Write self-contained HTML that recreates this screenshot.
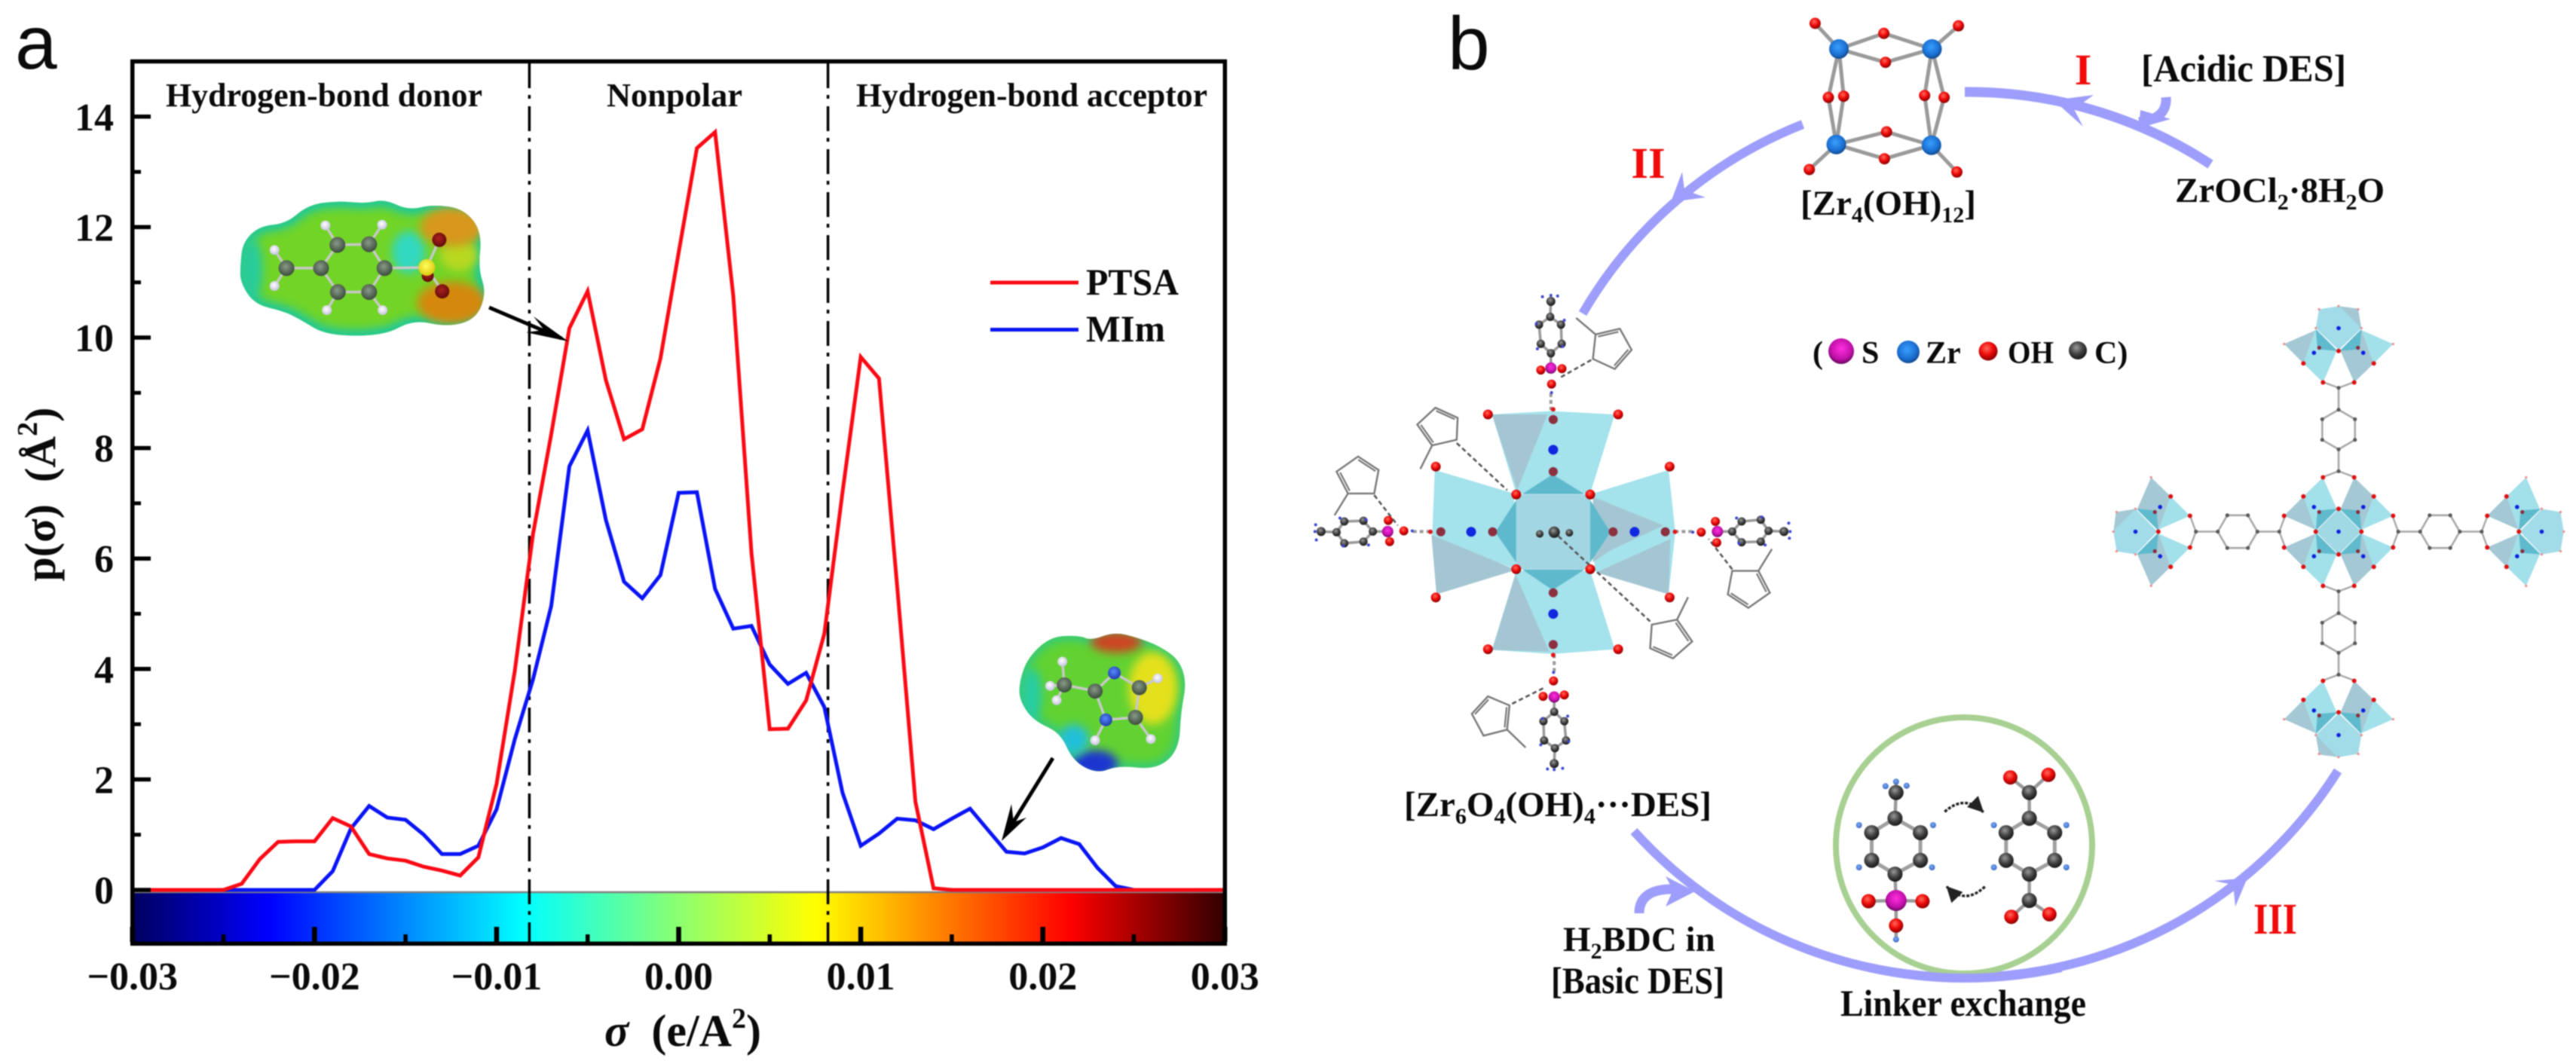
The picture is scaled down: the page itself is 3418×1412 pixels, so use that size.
<!DOCTYPE html>
<html lang="en">
<head>
<meta charset="utf-8">
<title>Sigma profile and MOF synthesis cycle</title>
<style>
html,body{margin:0;padding:0;background:#fff;}
#figure{display:block;filter:blur(0.8px);}
text{font-family:"Liberation Serif",serif;font-weight:bold;fill:#0a0a0a;}
.panel{font-family:"Liberation Sans",sans-serif;font-weight:normal;font-size:100px;}
.tick{font-size:52px;}
.grp{font-size:44px;}
.leg{font-size:50px;}
.lab{font-size:47px;}
.roman{font-size:58px;fill:#f00a0a;}
</style>
</head>
<body>
<svg id="figure" xmlns="http://www.w3.org/2000/svg" width="3418" height="1412" viewBox="0 0 3418 1412">
<defs>
<linearGradient id="barGrad" x1="0" x2="1" y1="0" y2="0">
<stop offset="0" stop-color="#00005f"/>
<stop offset="0.125" stop-color="#0000ff"/>
<stop offset="0.358" stop-color="#00ffff"/>
<stop offset="0.5" stop-color="#8cff70"/>
<stop offset="0.625" stop-color="#ffff00"/>
<stop offset="0.858" stop-color="#ff0000"/>
<stop offset="1" stop-color="#300000"/>
</linearGradient>
<radialGradient id="gRed" cx="0.42" cy="0.35" r="0.7"><stop offset="0" stop-color="#ff6a5a"/><stop offset="0.5" stop-color="#ee0a0a"/><stop offset="1" stop-color="#700"/></radialGradient>
<radialGradient id="gZr" cx="0.45" cy="0.4" r="0.7"><stop offset="0" stop-color="#39a0ff"/><stop offset="0.6" stop-color="#1a6ed0"/><stop offset="1" stop-color="#0c3568"/></radialGradient>
<radialGradient id="gDark" cx="0.42" cy="0.35" r="0.7"><stop offset="0" stop-color="#999"/><stop offset="0.5" stop-color="#444"/><stop offset="1" stop-color="#111"/></radialGradient>
<radialGradient id="gMag" cx="0.5" cy="0.4" r="0.7"><stop offset="0" stop-color="#ff30e0"/><stop offset="0.6" stop-color="#c010a8"/><stop offset="1" stop-color="#300030"/></radialGradient>
<radialGradient id="gSmall" cx="0.45" cy="0.4" r="0.7"><stop offset="0" stop-color="#7ab0ff"/><stop offset="1" stop-color="#3356b0"/></radialGradient>
<radialGradient id="gWhite" cx="0.45" cy="0.4" r="0.7"><stop offset="0" stop-color="#fff"/><stop offset="1" stop-color="#bbb8d8"/></radialGradient>
<radialGradient id="gCesp" cx="0.45" cy="0.4" r="0.7"><stop offset="0" stop-color="#8a9a88"/><stop offset="1" stop-color="#2e3e30"/></radialGradient>
<radialGradient id="gNesp" cx="0.45" cy="0.4" r="0.7"><stop offset="0" stop-color="#5a88ff"/><stop offset="1" stop-color="#1230a0"/></radialGradient>
<radialGradient id="gOesp" cx="0.45" cy="0.4" r="0.7"><stop offset="0" stop-color="#b02020"/><stop offset="1" stop-color="#500808"/></radialGradient>
<radialGradient id="gS" cx="0.45" cy="0.4" r="0.7"><stop offset="0" stop-color="#ffff60"/><stop offset="1" stop-color="#d8c000"/></radialGradient>
<filter id="soft" x="-60%" y="-60%" width="220%" height="220%"><feGaussianBlur stdDeviation="12"/></filter>
<filter id="softer" x="-60%" y="-60%" width="220%" height="220%"><feGaussianBlur stdDeviation="6"/></filter>
<clipPath id="clipPtsa"><path id="clipPtsaPath" d=""/></clipPath>
<clipPath id="clipMim"><path id="clipMimPath" d=""/></clipPath>
<marker id="dashHead" markerWidth="10" markerHeight="10" refX="6" refY="3" orient="auto" markerUnits="strokeWidth"><path d="M0 0 L6 3 L0 6 Z" fill="#222"/></marker>
</defs>
<rect width="3418" height="1412" fill="#fff"/>

<text class="panel" x="20" y="91">a</text>
<text class="panel" x="1921" y="92">b</text>

<g id="chart"></g>

<text class="grp" x="220" y="141" textLength="420" lengthAdjust="spacingAndGlyphs">Hydrogen-bond donor</text>
<text class="grp" x="805" y="141" textLength="180" lengthAdjust="spacingAndGlyphs">Nonpolar</text>
<text class="grp" x="1136" y="141" textLength="466" lengthAdjust="spacingAndGlyphs">Hydrogen-bond acceptor</text>

<g>
<line x1="1314" x2="1431" y1="375" y2="375" stroke="#fa0a14" stroke-width="5"/>
<text class="leg" x="1441" y="391" textLength="123" lengthAdjust="spacingAndGlyphs">PTSA</text>
<line x1="1314" x2="1431" y1="437.5" y2="437.5" stroke="#0a14f5" stroke-width="5"/>
<text class="leg" x="1441" y="453" textLength="105" lengthAdjust="spacingAndGlyphs">MIm</text>
</g>

<text transform="translate(73,656) rotate(-90)" text-anchor="middle" font-size="58" xml:space="preserve">p(σ)  (Å<tspan font-size="38" dy="-24">2</tspan><tspan dy="24">)</tspan></text>
<text x="802" y="1388" font-size="60" xml:space="preserve"><tspan font-style="italic">σ</tspan>  (e/A<tspan font-size="38" dy="-24">2</tspan><tspan dy="24">)</tspan></text>

<g id="espPtsa"></g>
<g id="espMim"></g>

<g>
<line x1="649" y1="408" x2="745" y2="449" stroke="#000" stroke-width="5"/>
<path d="M754 453 L708 420 L722 438 L698 441 Z" fill="#000"/>
</g>
<g>
<line x1="1397" y1="1006" x2="1334" y2="1108" stroke="#000" stroke-width="5"/>
<path d="M1329 1116 L1342 1067 L1345 1091 L1362 1085 Z" fill="#000"/>
</g>

<!-- panel b -->
<g fill="none" stroke="#9d9dfb" stroke-width="12">
<path d="M2607 122 A588 588 0 0 1 2933 218" stroke-width="13"/>
<path d="M2392 165 A588 588 0 0 0 2100 416"/>
<path d="M2168 1103 A588 588 0 0 0 3102 1023"/>
<path d="M2874 129 Q2876 158 2838 162" stroke-width="13"/>
<path d="M2175 1212 Q2175 1178 2225 1180" stroke-width="13"/>
<path stroke="none" fill="#9d9dfb" d="M2725 133 L2778 126 L2752 145 L2764 168 Z"/>
<path stroke="none" fill="#9d9dfb" d="M2217 268 L2232 228 L2235 252 L2263 262 Z"/>
<path stroke="none" fill="#9d9dfb" d="M2982 1165 L2938 1169 L2963 1174 L2966 1203 Z"/>
<path stroke="none" fill="#9d9dfb" d="M2249 1183 L2210 1163 L2220 1181 L2210 1203 Z"/>
<path stroke="none" fill="#9d9dfb" d="M2838 170 L2840 146 L2880 158 Z"/>
</g>

<g id="zrCluster"></g>
<g id="leftMof"></g>
<g id="rightMof"></g>
<ellipse cx="2606" cy="1122" rx="170" ry="170" fill="none" stroke="#a8d092" stroke-width="8"/>
<path d="M2480 1284 A588 588 0 0 0 2735 1284" fill="none" stroke="#9d9dfb" stroke-width="12"/>
<g id="exchange"></g>
<g id="legendB"></g>

<text class="roman" x="2764" y="112" text-anchor="middle">I</text>
<text class="roman" x="2187" y="236" text-anchor="middle">II</text>
<text class="roman" x="3019" y="1239" text-anchor="middle" textLength="58" lengthAdjust="spacingAndGlyphs">III</text>

<text class="lab" x="2841" y="108" textLength="272" lengthAdjust="spacingAndGlyphs" style="font-size:51px">[Acidic DES]</text>
<text class="lab" x="2886" y="268">ZrOCl<tspan font-size="30" dy="10">2</tspan><tspan dy="-10">·8H</tspan><tspan font-size="30" dy="10">2</tspan><tspan dy="-10">O</tspan></text>
<text class="lab" x="2389" y="285">[Zr<tspan font-size="30" dy="10">4</tspan><tspan dy="-10">(OH)</tspan><tspan font-size="30" dy="10">12</tspan><tspan dy="-10">]</tspan></text>
<text class="lab" x="1863" y="1083">[Zr<tspan font-size="30" dy="10">6</tspan><tspan dy="-10">O</tspan><tspan font-size="30" dy="10">4</tspan><tspan dy="-10">(OH)</tspan><tspan font-size="30" dy="10">4</tspan><tspan dy="-10">···DES]</tspan></text>
<text class="lab" x="2074" y="1262">H<tspan font-size="30" dy="10">2</tspan><tspan dy="-10">BDC in</tspan></text>
<text class="lab" x="2058" y="1318" textLength="230" lengthAdjust="spacingAndGlyphs" style="font-size:50px">[Basic DES]</text>
<text class="lab" x="2442" y="1348" textLength="326" lengthAdjust="spacingAndGlyphs" style="font-size:50px">Linker exchange</text>

<g font-size="42">
<text x="2405" y="482" font-size="42">(</text>
<text x="2470" y="482" font-size="42">S</text>
<text x="2555" y="482" font-size="42">Zr</text>
<text x="2664" y="482" font-size="42" textLength="61" lengthAdjust="spacingAndGlyphs">OH</text>
<text x="2779" y="482" font-size="42">C)</text>
</g>
</svg>

<script>
// ---------- chart data ----------
const sigmaValues = [-0.030,-0.029,-0.028,-0.027,-0.026,-0.025,-0.024,-0.023,-0.022,-0.021,-0.020,-0.019,-0.018,-0.017,-0.016,-0.015,-0.014,-0.013,-0.012,-0.011,-0.010,-0.009,-0.008,-0.007,-0.006,-0.005,-0.004,-0.003,-0.002,-0.001,0.000,0.001,0.002,0.003,0.004,0.005,0.006,0.007,0.008,0.009,0.010,0.011,0.012,0.013,0.014,0.015,0.016,0.017,0.018,0.019,0.020,0.021,0.022,0.023,0.024,0.025,0.026,0.027,0.028,0.029,0.030];
const ptsaValues = [0,0,0,0,0,0,0.11,0.56,0.87,0.88,0.88,1.30,1.15,0.65,0.57,0.53,0.42,0.35,0.26,0.59,1.92,3.97,6.44,8.25,10.17,10.84,9.23,8.16,8.34,9.62,11.54,13.43,13.72,10.75,6.10,2.91,2.92,3.43,4.64,7.20,9.65,9.26,5.50,1.60,0.03,0,0,0,0,0,0,0,0,0,0,0,0,0,0,0,0];
const mimValues = [0,0,0,0,0,0,0,0,0,0,0,0.34,1.11,1.52,1.31,1.27,1.00,0.65,0.65,0.80,1.46,2.73,3.81,5.14,7.67,8.32,6.70,5.58,5.28,5.70,7.19,7.20,5.45,4.73,4.78,4.08,3.73,3.93,3.31,1.76,0.80,1.02,1.29,1.26,1.10,1.29,1.47,1.08,0.69,0.66,0.77,0.94,0.83,0.40,0.07,0,0,0,0,0,0];
const xMajorTicks = [-0.03,-0.02,-0.01,0.00,0.01,0.02,0.03];
const xMinorTicks = [-0.025,-0.015,-0.005,0.005,0.015,0.025];
const xTickLabels = ["\u22120.03","\u22120.02","\u22120.01","0.00","0.01","0.02","0.03"];
const yMajorTicks = [0,2,4,6,8,10,12,14];
const yMinorTicks = [1,3,5,7,9,11,13];
const yTickLabels = ["0","2","4","6","8","10","12","14"];
const regionBoundaries = [-0.0082,0.0082];
const xDomain = [-0.03,0.03];
const yDomain = [-1,15];

const SVGNS = "http://www.w3.org/2000/svg";
function xScale(v){return 175.7+(v-xDomain[0])/(xDomain[1]-xDomain[0])*1449.6;}
function yScale(v){return 1254.3-(v-yDomain[0])/(yDomain[1]-yDomain[0])*1172.8;}
function mk(tag,parent,attrs){
  const el=document.createElementNS(SVGNS,tag);
  for(const k in attrs){el.setAttribute(k,attrs[k]);}
  parent.appendChild(el);
  return el;
}
const chart=document.getElementById("chart");

// colour bar
const bar=mk("rect",chart,{x:xScale(xDomain[0]),y:1184,width:xScale(xDomain[1])-xScale(xDomain[0]),height:66,fill:"url(#barGrad)"});


const barTop=mk("line",chart,{x1:xScale(xDomain[0]),x2:xScale(xDomain[1]),y1:1184,y2:1184,stroke:"#808080","stroke-width":2.5});



// region boundaries
regionBoundaries.forEach(function(b){
  const l=mk("line",chart,{x1:xScale(b),x2:xScale(b),y1:84,y2:1250,stroke:"#000","stroke-width":3.5,"stroke-dasharray":"33 9 5 10"});
  
  
});

// series
function seriesPath(vals){
  return vals.map(function(v,i){return (i?"L":"M")+xScale(sigmaValues[i]).toFixed(1)+" "+yScale(v).toFixed(1);}).join(" ");
}
const mimLine=mk("path",chart,{d:seriesPath(mimValues),fill:"none",stroke:"#0a14f5","stroke-width":5,"stroke-linejoin":"miter"});


const ptsaLine=mk("path",chart,{d:seriesPath(ptsaValues),fill:"none",stroke:"#fa0a14","stroke-width":5,"stroke-linejoin":"miter"});



// frame
const frame=mk("rect",chart,{x:xScale(xDomain[0]),y:yScale(yDomain[1]),width:xScale(xDomain[1])-xScale(xDomain[0]),height:yScale(yDomain[0])-yScale(yDomain[1])-2,fill:"none",stroke:"#000","stroke-width":5.5});



// ticks
yMajorTicks.forEach(function(v,i){
  const t=mk("line",chart,{x1:175,x2:200,y1:yScale(v),y2:yScale(v),stroke:"#000","stroke-width":5.5});
  
  
  const l=mk("text",chart,{x:151,y:yScale(v)+18,"text-anchor":"end",class:"tick"});
  
  
  l.textContent=yTickLabels[i];
});
yMinorTicks.forEach(function(v){
  const t=mk("line",chart,{x1:175,x2:187,y1:yScale(v),y2:yScale(v),stroke:"#000","stroke-width":5});
  
  
});
xMajorTicks.forEach(function(v,i){
  const t=mk("line",chart,{x1:xScale(v),x2:xScale(v),y1:1250,y2:1230,stroke:"#000","stroke-width":6.5});
  
  
  const l=mk("text",chart,{x:xScale(v),y:1313,"text-anchor":"middle",class:"tick"});
  
  
  l.textContent=xTickLabels[i];
});
xMinorTicks.forEach(function(v){
  const t=mk("line",chart,{x1:xScale(v),x2:xScale(v),y1:1250,y2:1240,stroke:"#000","stroke-width":5.5});
  
  
});

// ---------- illustration helpers ----------
const z1=function(p){return [p[0]/1.568,p[1]/2.24];};
const z4=function(p){return [800+p[0]/1.96,700+p[1]/2.202];};
const z5=function(p){return [1560+p[0]/2.24,300+p[1]/2.24];};
const z7=function(p){return [2000+p[0]/1.425,p[1]/3];};
const z8=function(p){return [1800+p[0]/1.425,950+p[1]/3];};

function ball(parent,p,r,fill,name){
  const el=mk("circle",parent,{cx:p[0].toFixed(1),cy:p[1].toFixed(1),r:r,fill:fill});
  
  
  return el;
}
function stick(parent,a,b,w,col,dash,name){
  const attrs={x1:a[0].toFixed(1),y1:a[1].toFixed(1),x2:b[0].toFixed(1),y2:b[1].toFixed(1),stroke:col,"stroke-width":w};
  if(dash){attrs["stroke-dasharray"]=dash;}
  const el=mk("line",parent,attrs);
  
  
  return el;
}
function poly(parent,pts,fill,name){
  const el=mk("polygon",parent,{points:pts.map(function(p){return p[0].toFixed(1)+","+p[1].toFixed(1);}).join(" "),fill:fill});
  
  
  return el;
}
function closedSpline(pts){
  const n=pts.length;
  const mid=function(a,b){return [(a[0]+b[0])/2,(a[1]+b[1])/2];};
  const s=mid(pts[n-1],pts[0]);
  let d="M"+s[0].toFixed(1)+" "+s[1].toFixed(1);
  for(let i=0;i<n;i++){
    const m=mid(pts[i],pts[(i+1)%n]);
    d+=" Q"+pts[i][0].toFixed(1)+" "+pts[i][1].toFixed(1)+" "+m[0].toFixed(1)+" "+m[1].toFixed(1);
  }
  return d+" Z";
}
function glow(parent,conv,c,rx,ry,col,filt,name){
  const p=conv(c);
  const el=mk("ellipse",parent,{cx:p[0],cy:p[1],rx:rx,ry:ry,fill:col,filter:"url(#"+filt+")"});
  
  
}

// ---------- PTSA ESP surface ----------
(function(){
  const g=document.getElementById("espPtsa");
  const outline=[[500,790],[505,720],[540,672],[595,665],[640,610],[700,597],[760,605],[800,592],[850,625],[900,608],[965,620],[1003,690],[995,800],[1012,870],[990,950],[930,972],[860,950],[800,998],[680,998],[625,950],[590,925],[530,905],[500,840]].map(z1);
  const d=closedSpline(outline);
  document.getElementById("clipPtsaPath").setAttribute("d",d);
  const base=mk("path",g,{d:d,fill:"#72d426"});
  
  
  const c=mk("g",g,{"clip-path":"url(#clipPtsa)"});
  const rim=mk("path",c,{d:d,fill:"none",stroke:"#1cc8a0","stroke-width":16,filter:"url(#softer)"});
  
  
  glow(c,z1,[850,750],22,28,"#30d8c0","softer","ptsa-surface-teal");
  glow(c,z1,[525,800],14,40,"#28cc9c","softer","ptsa-surface-left");
  glow(c,z1,[955,760],25,20,"#b8d820","softer","ptsa-surface-yellow");
  glow(c,z1,[940,675],42,26,"#d8981e","softer","ptsa-surface-orange-top");
  glow(c,z1,[940,900],46,28,"#d4880f","softer","ptsa-surface-orange-bottom");
  [[596,797,668,797],[668,797,702,728],[702,728,768,726],[768,726,800,797],[800,797,768,868],[768,868,703,868],[703,868,668,797],[800,797,888,795],[596,797,571,743],[596,797,571,850],[702,728,677,670],[768,726,795,668],[703,868,680,922],[768,868,796,922],[888,795,914,713],[888,795,920,866]].forEach(function(s){
    stick(g,z1([s[0],s[1]]),z1([s[2],s[3]]),3.5,"#c8c8c8",null,"ptsa-bond");
  });
  [[596,797],[668,797],[702,728],[768,726],[800,797],[768,868],[703,868]].forEach(function(p){ball(g,z1(p),10.5,"url(#gCesp)","ptsa-carbon");});
  [[571,743],[571,850],[677,670],[795,668],[680,922],[796,922]].forEach(function(p){ball(g,z1(p),6.5,"url(#gWhite)","ptsa-hydrogen");});
  ball(g,z1([890,820]),8,"url(#gOesp)","ptsa-oxygen");
  [[914,713],[920,866]].forEach(function(p){ball(g,z1(p),9.5,"url(#gOesp)","ptsa-oxygen");});
  ball(g,z1([888,795]),11,"url(#gS)","ptsa-sulfur");
})();

// ---------- MIm ESP surface ----------
(function(){
  const g=document.getElementById("espMim");
  const outline=[[1083,450],[1105,380],[1165,318],[1240,316],[1270,330],[1330,305],[1390,322],[1445,345],[1497,385],[1518,450],[1503,540],[1498,650],[1440,708],[1340,695],[1285,720],[1222,682],[1190,600],[1120,565],[1083,505]].map(z4);
  const d=closedSpline(outline);
  document.getElementById("clipMimPath").setAttribute("d",d);
  const base=mk("path",g,{d:d,fill:"#62d232"});
  
  
  const c=mk("g",g,{"clip-path":"url(#clipMim)"});
  const rim=mk("path",c,{d:d,fill:"none",stroke:"#28c890","stroke-width":10,filter:"url(#softer)"});
  
  
  glow(c,z4,[1430,470],32,48,"#e4e01c","softer","mim-surface-yellow");
  glow(c,z4,[1335,335],34,14,"#cc4420","softer","mim-surface-red");
  glow(c,z4,[1280,690],30,18,"#1c34d0","softer","mim-surface-blue");
  glow(c,z4,[1225,620],20,20,"#20c0d8","softer","mim-surface-cyan");
  glow(c,z4,[1115,490],14,36,"#28cca0","softer","mim-surface-left");
  [[1200,460,1280,478],[1280,478,1330,425],[1330,425,1395,468],[1395,468,1385,555],[1385,555,1308,562],[1308,562,1280,478],[1200,460,1163,463],[1200,460,1195,392],[1200,460,1180,505],[1395,468,1443,441],[1308,562,1280,622],[1385,555,1425,618]].forEach(function(s){
    stick(g,z4([s[0],s[1]]),z4([s[2],s[3]]),3.5,"#c8c8c8",null,"mim-bond");
  });
  [[1200,460],[1280,478],[1395,468],[1385,555]].forEach(function(p){ball(g,z4(p),10,"url(#gCesp)","mim-carbon");});
  [[1330,425],[1308,562]].forEach(function(p){ball(g,z4(p),8.5,"url(#gNesp)","mim-nitrogen");});
  [[1163,463],[1195,392],[1180,505],[1443,441],[1280,622],[1425,618]].forEach(function(p){ball(g,z4(p),6.5,"url(#gWhite)","mim-hydrogen");});
})();

// ---------- Zr4 cluster ----------
(function(){
  const g=document.getElementById("zrCluster");
  const zr=[[627,195],[803,195],[622,575],[802,578]];
  const bonds=[[627,195,582,93],[803,195,853,103],[627,195,712,133],[803,195,712,133],[627,195,715,248],[803,195,715,248],[627,195,607,388],[627,195,636,383],[803,195,789,380],[803,195,826,388],[622,575,607,388],[622,575,636,383],[802,578,789,380],[802,578,826,388],[622,575,717,525],[802,578,717,525],[622,575,713,632],[802,578,713,632],[622,575,571,675],[802,578,850,685]];
  bonds.forEach(function(b){stick(g,z7([b[0],b[1]]),z7([b[2],b[3]]),5,"#9a9a9a",null,"zr-oxygen-bond");});
  [[582,93],[853,103],[712,133],[715,248],[607,388],[636,383],[789,380],[826,388],[717,525],[713,632],[571,675],[850,685]].forEach(function(p){ball(g,z7(p),7.5,"url(#gRed)","oxygen-atom");});
  zr.forEach(function(p){ball(g,z7(p),13,"url(#gZr)","zirconium-atom");});
})();

// ---------- left MOF node with DES ----------
(function(){
  const g=document.getElementById("leftMof");
  const L="#a4e2ec",G="#a4c6d2",D="#5fb9cc";
  const P=function(pts,c,n){poly(g,pts.map(z5),c,n);};
  P([[940,560],[1115,550],[1305,560],[1232,795],[1012,795]],L,"top-petal");
  P([[940,560],[1105,560],[1015,785]],G,"top-petal-shade");
  P([[1012,1025],[1232,1025],[1305,1258],[1120,1272],[940,1260]],L,"bottom-petal");
  P([[940,1260],[1010,1035],[1110,1265]],G,"bottom-petal-shade");
  P([[770,725],[1005,795],[1012,1020],[762,925]],L,"left-petal");
  P([[760,918],[1012,1022],[775,1095]],G,"left-petal-shade");
  P([[1240,795],[1465,725],[1485,910],[1465,1095],[1245,1025]],L,"right-petal");
  P([[1240,805],[1450,890],[1290,965],[1240,1000]],G,"right-petal-shade");
  P([[1250,1030],[1470,930],[1465,1095]],G,"right-petal-shade-lower");
  P([[1012,798],[1232,798],[1232,1020],[1012,1020]],"#a2d6e2","centre-square");
  P([[1030,797],[1120,738],[1215,797]],D,"centre-facet-top");
  P([[1030,1021],[1120,1082],[1215,1021]],D,"centre-facet-bottom");
  P([[1012,815],[950,910],[1012,1000]],D,"centre-facet-left");
  P([[1232,815],[1292,910],[1232,1000]],D,"centre-facet-right");

  // imidazoles
  function mim(meth,ring,d1,d2,dbl){
    const a=ring.map(z5);
    const pl=mk("polygon",g,{points:a.map(function(p){return p[0].toFixed(1)+","+p[1].toFixed(1);}).join(" "),fill:"none",stroke:"#777","stroke-width":2.4});
    
    
    const cx=ring.reduce(function(s,p){return s+p[0];},0)/5,cy=ring.reduce(function(s,p){return s+p[1];},0)/5;
    dbl.forEach(function(i){
      const p=ring[i],q=ring[(i+1)%5];
      const inner=function(r){return [r[0]+(cx-r[0])*0.16,r[1]+(cy-r[1])*0.16];};
      stick(g,z5(inner(p)),z5(inner(q)),2.2,"#777",null,"imidazole-double-bond");
    });
    stick(g,z5(meth),z5(ring[0]),2.4,"#777",null,"imidazole-methyl");
    stick(g,z5(d1),z5(d2),2.6,"#555","6 4","hydrogen-bond");
  }
  mim([1190,273],[[1248,322],[1320,305],[1355,368],[1305,425],[1240,395]],[1235,398],[1140,452],[0,2]);
  mim([727,722],[[762,652],[835,635],[838,570],[772,540],[718,590]],[835,645],[985,785],[2,4]);
  mim([472,860],[[512,795],[590,795],[603,725],[542,685],[478,730]],[590,800],[660,890],[2,4]);
  mim([1523,1103],[[1490,1170],[1415,1185],[1410,1255],[1478,1285],[1535,1235]],[1410,1175],[1130,915],[2,4]);
  mim([1040,1550],[[985,1497],[915,1515],[880,1450],[928,1398],[992,1425]],[1000,1420],[1100,1370],[2,4]);
  mim([1772,960],[[1732,1025],[1654,1025],[1641,1095],[1702,1135],[1766,1090]],[1654,1020],[1584,930],[2,4]);

  // PTSA molecules: local coordinates relative to S, ring pointing "up"
  function ptsa(sx,sy,rot){
    const c=Math.cos(rot),s=Math.sin(rot);
    const R=function(p){return z5([sx+p[0]*c-p[1]*s,sy+p[0]*s+p[1]*c]);};
    const ring=[[-2,-152],[30,-129],[32,-72],[0,-44],[-30,-72],[-35,-129]];
    ring.forEach(function(p,i){stick(g,R(p),R(ring[(i+1)%6]),3.5,"#999",null,"ptsa-ring-bond");});
    stick(g,R([0,-44]),R([0,0]),3.5,"#999",null,"ptsa-stem");
    stick(g,R([-2,-152]),R([0,-198]),3.5,"#999",null,"ptsa-stem");
    stick(g,R([0,75]),R([0,125]),4,"#999","5 4","node-link");
    ring.forEach(function(p){ball(g,R(p),5.5,"url(#gDark)","ptsa-carbon");});
    ball(g,R([0,-198]),6,"url(#gDark)","ptsa-carbon");
    [[-25,-212],[0,-216],[20,-214],[-43,-132],[40,-142],[-40,-57],[35,-64],[2,73]].forEach(function(p){ball(g,R(p),2,"#3c46d0","ptsa-hydrogen");});
    [[-30,6],[33,2],[2,48]].forEach(function(p){ball(g,R(p),6,"url(#gRed)","ptsa-oxygen");});
    ball(g,R([0,0]),7.5,"url(#gMag)","ptsa-sulfur");
  }
  ptsa(1115,422,0);
  ptsa(1125,1400,Math.PI);
  ptsa(630,908,-Math.PI/2);
  ptsa(1610,908,Math.PI/2);

  [[928,560],[1315,560],[928,1258],[1315,1258],[773,715],[1468,715],[773,1104],[1468,1104],[1012,798],[1232,798],[1012,1020],[1232,1020]].forEach(function(p){ball(g,z5(p),6.5,"url(#gRed)","oxygen-atom");});
  [[1122,575],[1122,730],[1122,1090],[1122,1244],[788,909],[942,909],[1300,909],[1455,909]].forEach(function(p){ball(g,z5(p),6,"#8c3040","inner-oxygen");});
  [[1122,665],[1122,1153],[878,909],[1364,909]].forEach(function(p){ball(g,z5(p),6.5,"#1028e0","zirconium-atom");});
  [[1122,545],[1122,1275],[757,909],[1484,909]].forEach(function(p){ball(g,z5(p),3,"#e01818","terminal-oxygen");});
  [[1082,915],[1170,912]].forEach(function(p){ball(g,z5(p),5,"url(#gDark)","axial-linker-carbon");});
  ball(g,z5([1125,910]),7.5,"url(#gDark)","axial-linker-carbon");
})();

// ---------- right MOF framework ----------
(function(){
  const g=document.getElementById("rightMof");
  const L="#a2e0ea",G="#a4c8d4",D="#5fbacd",C="#a0d8e4";
  const k=1/3;
  function node(cx,cy,quads,u){
    const T=function(p){return [cx+p[0]*k,cy+p[1]*k];};
    const P=function(pts,c,n){poly(g,pts.map(T),c,n);};
    const vert=u&&u[0]===0;
    quads.forEach(function(q){
      const a=q[0],b=q[1];
      P([[a*62,b*216],[a*8,b*92],[a*92,b*8],[a*140,b*140]],a<0?L:G,"node-petal");
      P([[a*140,b*140],[a*92,b*8],[a*217,b*63]],a<0?G:L,"node-petal");
    });
    if(u){
      const v=[-u[1],u[0]];
      const M=function(p){return [p[0]*u[0]+p[1]*v[0],p[0]*u[1]+p[1]*v[1]];};
      P([[-87,0],[0,-91],[75,-78],[88,0],[75,78],[0,91]].map(M),"#a2dce8","node-pentagon");
      if(u[0]!==1){P([[0,90],[78,77],[87,5]].map(M),G,"node-pentagon-shade");}
      [[0,-91],[75,-78],[88,0],[75,78],[0,91]].map(M).forEach(function(p){ball(g,T(p),1.6,"#f08a8a","terminal-oxygen");});
    }else{
      P([[0,-91],[91,0],[0,91],[-91,0]],C,"node-diamond");
    }
    quads.forEach(function(q){
      const a=q[0],b=q[1];
      P([[a*91,b*4],[a*84,b*84],[a*4,b*91]],D,"node-facet");
      ball(g,T([a*140,b*140]),3,"#e01010","oxygen-atom");
      const o1=T([a*62,b*216]),o2=T([a*217,b*63]);
      const bright1=!u||vert, bright2=!u||!vert;
      ball(g,o1,bright1?3:1.6,bright1?"#e01010":"#f08a8a","oxygen-atom");
      ball(g,o2,bright2?3:1.6,bright2?"#e01010":"#f08a8a","oxygen-atom");
      ball(g,T([a*77,b*78]),2.6,"#8c2a3a","inner-oxygen");
      ball(g,T([a*98,b*98]),2.8,"#0c1ee0","zirconium-atom");
    });
    if(!u){[[0,-91],[91,0],[0,91],[-91,0]].forEach(function(p){ball(g,T(p),3,"#e01010","oxygen-atom");});}
    else{ball(g,T([-u[0]*91,-u[1]*91]),3,"#e01010","oxygen-atom");}
    ball(g,T([0,0]),2.8,"#0c1ee0","zirconium-atom");
  }
  function linker(cx,cy,vertical){
    const T=function(a,p){const q=vertical?[p,a]:[a,p];return [cx+q[0]*k,cy+q[1]*k];};
    const grey="#a8a8a8";
    const ring=[[-79,0],[-41,65],[41,65],[79,0],[41,-65],[-41,-65]];
    ring.forEach(function(r,i){const n=ring[(i+1)%6];stick(g,T(r[0],r[1]),T(n[0],n[1]),2.6,grey,null,"linker-ring-bond");});
    stick(g,T(-79,0),T(-166,0),2.6,grey,null,"linker-stem");
    stick(g,T(79,0),T(166,0),2.6,grey,null,"linker-stem");
    [[-166,1],[166,1],[-166,-1],[166,-1]].forEach(function(s){stick(g,T(s[0],0),T(s[0]<0?-189:189,s[1]*62),2.4,grey,null,"carboxylate-bond");});
    ring.forEach(function(r){ball(g,T(r[0],r[1]),2.6,"#5a5a5a","linker-carbon");});
    ball(g,T(-166,0),2.6,"#5a5a5a","linker-carbon");
    ball(g,T(166,0),2.6,"#5a5a5a","linker-carbon");
  }
  const UL=[-1,-1],UR=[1,-1],LL=[-1,1],LR=[1,1];
  linker(3103,570,true);
  linker(3103,840,true);
  linker(2969,705.5,false);
  linker(3237.5,705.5,false);
  node(3103,705.5,[UL,UR,LL,LR],null);
  node(3103,435.5,[LL,LR],[0,-1]);
  node(3103,975.5,[UL,UR],[0,1]);
  node(2833.5,705.5,[UR,LR],[-1,0]);
  node(3372.5,705.5,[UL,LL],[1,0]);
})();

// ---------- linker exchange molecules ----------
(function(){
  const g=document.getElementById("exchange");
  const ringA=[[1018,408],[1066,465],[1066,575],[1018,630],[974,575],[974,465]];
  const ringB=[[1272,408],[1320,465],[1320,575],[1272,630],[1228,575],[1228,465]];
  [ringA,ringB].forEach(function(r){
    r.forEach(function(p,i){stick(g,z8(p),z8(r[(i+1)%6]),5,"#a0a0a0",null,"exchange-ring-bond");});
  });
  [[1020,305,1018,408],[1018,630,1020,735],[1020,735,968,738],[1020,735,1070,738],[1020,735,1020,835],[1020,835,1020,890],[1272,305,1272,408],[1272,630,1272,735],[1272,305,1236,245],[1272,305,1308,235],[1272,735,1238,800],[1272,735,1310,790],[1020,305,1020,262]].forEach(function(b){
    stick(g,z8([b[0],b[1]]),z8([b[2],b[3]]),4.5,"#9a9a9a",null,"exchange-bond");
  });
  ringA.concat(ringB,[[1020,305],[1272,305],[1272,735]]).forEach(function(p){ball(g,z8(p),10,"url(#gDark)","exchange-carbon");});
  [[1020,262],[1000,280],[1040,278],[950,435],[1090,435],[950,603],[1088,603],[1020,890],[1205,435],[1342,435],[1205,603],[1342,603]].forEach(function(p){ball(g,z8(p),4,"url(#gSmall)","exchange-hydrogen");});
  [[968,738],[1070,738],[1020,835],[1236,245],[1308,235],[1238,800],[1310,790]].forEach(function(p){ball(g,z8(p),9.5,"url(#gRed)","exchange-oxygen");});
  ball(g,z8([1020,735]),14,"url(#gMag)","exchange-sulfur");
  const a1=z8([1112,382]),b1=z8([1186,385]),c1=z8([1150,310]);
  const p1=mk("path",g,{d:"M"+a1[0]+" "+a1[1]+" Q"+c1[0]+" "+c1[1]+" "+b1[0]+" "+b1[1],fill:"none",stroke:"#222","stroke-width":3.5,"stroke-dasharray":"4 2","marker-end":"url(#dashHead)"});
  
  
  const a2=z8([1188,680]),b2=z8([1115,678]),c2=z8([1150,755]);
  const p2=mk("path",g,{d:"M"+a2[0]+" "+a2[1]+" Q"+c2[0]+" "+c2[1]+" "+b2[0]+" "+b2[1],fill:"none",stroke:"#222","stroke-width":3.5,"stroke-dasharray":"4 2","marker-end":"url(#dashHead)"});
  
  
})();

// ---------- atom legend balls ----------
(function(){
  const g=document.getElementById("legendB");
  ball(g,[2443,466],17,"url(#gMag)","legend-ball-sulfur");
  ball(g,[2532,467],15,"url(#gZr)","legend-ball-zirconium");
  ball(g,[2638,466],12.5,"url(#gRed)","legend-ball-hydroxyl");
  ball(g,[2757,465],12,"url(#gDark)","legend-ball-carbon");
})();
</script>
</body>
</html>
